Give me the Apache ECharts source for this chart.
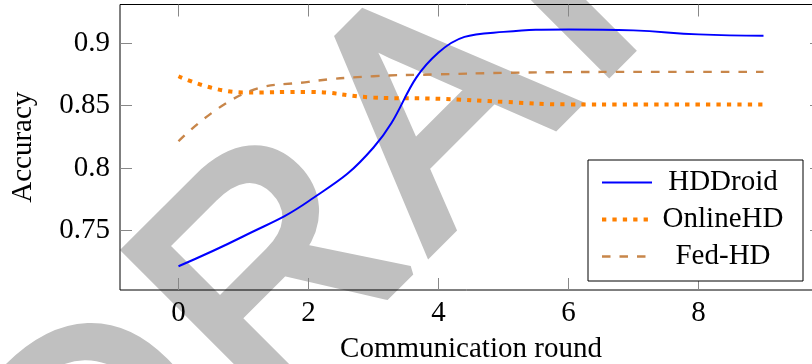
<!DOCTYPE html>
<html>
<head>
<meta charset="utf-8">
<script src="https://cdn.jsdelivr.net/npm/echarts@6/dist/echarts.min.js"></script>
<style>html,body{margin:0;padding:0;background:#fff;}#c{width:812px;height:364px;}</style>
</head>
<body>
<div id="c"></div>
<script>
const rounds = [0, 1, 2, 3, 4, 5, 6, 7, 8, 9];
const hddroid = [0.7215, 0.7455, 0.7735, 0.8165, 0.8925, 0.909, 0.911, 0.9102, 0.907, 0.906];
const onlinehd = [0.8735, 0.8605, 0.861, 0.8565, 0.8555, 0.853, 0.851, 0.851, 0.851, 0.851];
const fedhd = [0.8215, 0.8595, 0.869, 0.8735, 0.875, 0.8762, 0.8768, 0.877, 0.877, 0.877];
const xTicks = [0, 2, 4, 6, 8];
const yTicks = [0.75, 0.8, 0.85, 0.9];
const seriesNames = ['HDDroid', 'OnlineHD', 'Fed-HD'];
const watermarkLetters = ['D', 'R', 'A', 'F', 'T'];

const pair = (ys) => rounds.map((x, i) => [x, ys[i]]);
const serif = '"Liberation Serif", "Times New Roman", serif';
const tickStyle = { show: true, inside: true, length: 12, lineStyle: { color: '#888', width: 1 } };
const noLine = { show: false, onZero: false };

// watermark: letters placed along a 45° baseline
const wmSize = 312;
const wmBase = 490.7;              // perpendicular offset of baseline
const wmAlong = [-238, 0, 230, 450, 645];
const S2 = Math.SQRT2;
const watermark = watermarkLetters.map((ch, i) => ({
  type: 'text', silent: true, z: -10,
  x: (wmAlong[i] + wmBase) / S2, y: (wmBase - wmAlong[i]) / S2, rotation: Math.PI / 4,
  style: { text: ch, x: 0, y: -0.306 * wmSize, align: 'center', verticalAlign: 'middle',
    font: wmSize + 'px "Liberation Sans", Arial, sans-serif', fill: '#c0c0c0',
    stroke: '#c0c0c0', lineWidth: 10, lineJoin: 'round' }
}));

const chart = echarts.init(document.getElementById('c'), null, { renderer: 'canvas' });
chart.setOption({
  animation: false,
  backgroundColor: '#fff',
  graphic: watermark,
  grid: { left: 120, top: 4.5, width: 702, height: 285.5, show: true, borderColor: '#000', borderWidth: 1,
    backgroundColor: 'transparent', outerBoundsMode: 'none', containLabel: false },
  legend: {
    left: 588, top: 160, orient: 'vertical',
    data: seriesNames,
    backgroundColor: '#fff', borderColor: '#000', borderWidth: 1, borderRadius: 0,
    padding: [8, 14, 10, 12], itemGap: 8, itemWidth: 50, itemHeight: 14,
    itemStyle: { opacity: 0 },
    lineStyle: { width: 'inherit' },
    formatter: '{c|{name}}',
    textStyle: { rich: { c: { width: 132, align: 'center', fontFamily: serif, fontSize: 29, lineHeight: 30, color: '#000' } } }
  },
  xAxis: [{
    type: 'value', min: -0.9, max: 9.9, interval: 1,
    name: 'Communication round', nameLocation: 'middle', nameGap: 45,
    nameTextStyle: { fontFamily: serif, fontSize: 29, color: '#000' },
    axisLine: noLine, splitLine: { show: false },
    axisTick: Object.assign({ customValues: xTicks }, tickStyle),
    axisLabel: { customValues: xTicks, margin: 9, fontFamily: serif, fontSize: 29, color: '#000' }
  }, {
    type: 'value', position: 'top', min: -0.9, max: 9.9,
    axisLine: noLine, splitLine: { show: false },
    axisTick: Object.assign({ customValues: xTicks }, tickStyle),
    axisLabel: { show: false }
  }],
  yAxis: [{
    type: 'value', min: 0.7025, max: 0.9309,
    name: 'Accuracy', nameLocation: 'middle', nameGap: 82, nameRotate: 90,
    nameTextStyle: { fontFamily: serif, fontSize: 29, color: '#000' },
    axisLine: noLine, splitLine: { show: false },
    axisTick: Object.assign({ customValues: yTicks }, tickStyle),
    axisLabel: { customValues: yTicks, margin: 10, fontFamily: serif, fontSize: 29, color: '#000',
      formatter: v => String(+v.toFixed(2)) }
  }, {
    type: 'value', position: 'right', min: 0.7025, max: 0.9309,
    axisLine: noLine, splitLine: { show: false },
    axisTick: Object.assign({ customValues: yTicks }, tickStyle),
    axisLabel: { show: false }
  }],
  series: [{
    name: seriesNames[0], type: 'line', data: pair(hddroid), smooth: 0.45, showSymbol: false, symbol: 'none',
    itemStyle: { color: '#0000ff' }, lineStyle: { color: '#0000ff', width: 2 }, z: 3
  }, {
    name: seriesNames[1], type: 'line', data: pair(onlinehd), smooth: 0.45, showSymbol: false, symbol: 'none',
    itemStyle: { color: '#ff8000' }, lineStyle: { color: '#ff8000', width: 4, type: [4.3, 6.1], cap: 'butt' }, z: 2
  }, {
    name: seriesNames[2], type: 'line', data: pair(fedhd), smooth: 0.45, showSymbol: false, symbol: 'none',
    itemStyle: { color: '#c8864a' }, lineStyle: { color: '#c8864a', width: 2.4, type: [8.5, 9] }, z: 2
  }]
});
</script>
</body>
</html>
